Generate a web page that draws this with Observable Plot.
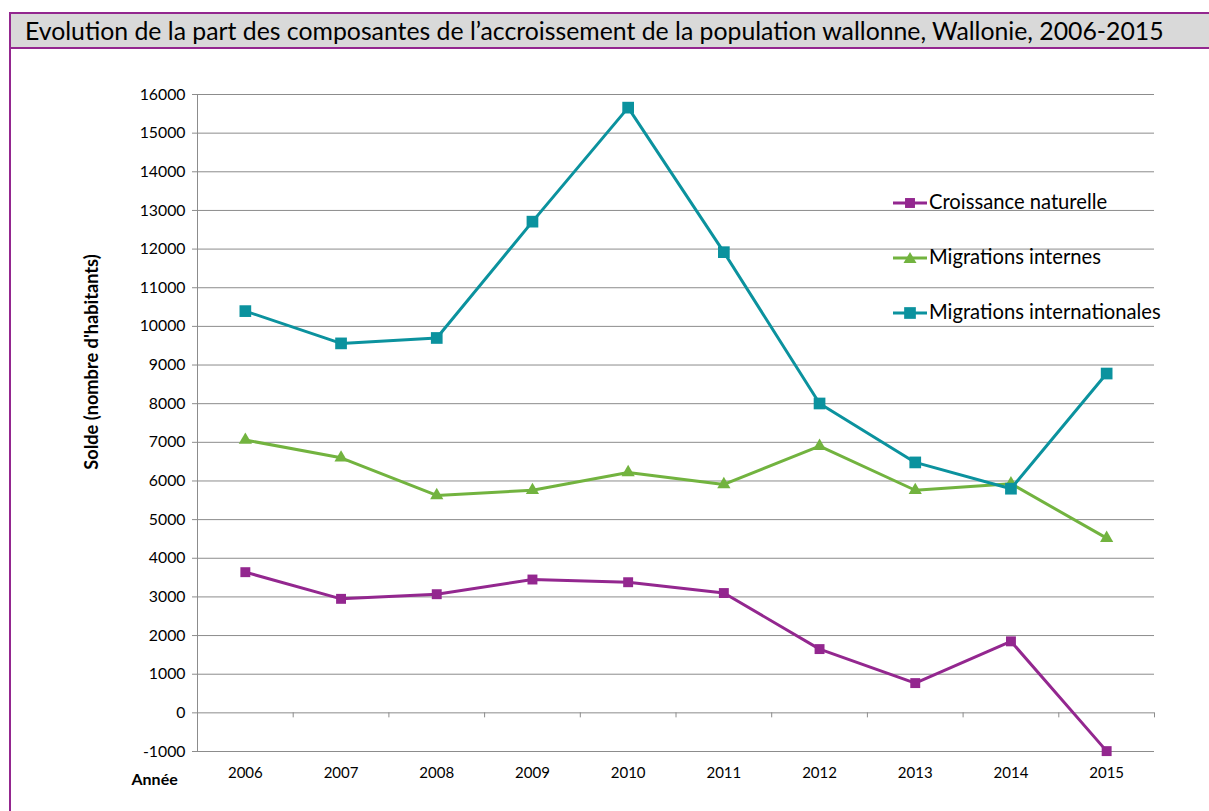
<!DOCTYPE html>
<html>
<head>
<meta charset="utf-8">
<script src="https://cdn.jsdelivr.net/npm/d3@7"></script>
<script src="https://cdn.jsdelivr.net/npm/@observablehq/plot@0.6"></script>
<style>
  body { margin: 0; background: #fff; font-family: Lato, "Noto Sans", sans-serif; }
  #wrap { position: relative; width: 1209px; height: 811px; overflow: hidden; background: #fff; }
  #chart { position: absolute; left: 0; top: 0; }
  #frame { position: absolute; left: 9px; top: 12px; width: 1300px; height: 900px;
           border-left: 2px solid #93278f; border-top: 2px solid #93278f; box-sizing: border-box; pointer-events: none; }
  #title { position: absolute; left: 11px; top: 14px; width: 1300px; height: 33px; background: #d9d9d9;
           border-bottom: 2px solid #93278f; font-size: 24.8px; line-height: 33px; padding-left: 14px; color: #000; box-sizing: content-box; white-space: nowrap; }
  #legend { position: absolute; left: 893px; top: 188px; font-size: 20.2px; color: #000; }
  .row { position: absolute; left: 0; white-space: nowrap; height: 26px; line-height: 26px; }
  .row svg { vertical-align: middle; margin-right: 2px; position: relative; top: -1px; }
</style>
</head>
<body>
<div id="wrap">
  <div id="chart"></div>
  <div id="frame"></div>
  <div id="title">Evolution de la part des composantes de l’accroissement de la population wallonne, Wallonie, 2006-2015</div>
  <div id="legend"></div>
</div>
<script>
const years = [2006, 2007, 2008, 2009, 2010, 2011, 2012, 2013, 2014, 2015];
const croissanceNaturelle = [3640, 2950, 3070, 3450, 3380, 3100, 1650, 770, 1850, -990];
const migrationsInternes = [7060, 6600, 5625, 5760, 6220, 5910, 6900, 5760, 5930, 4520];
const migrationsInternationales = [10395, 9560, 9700, 12710, 15660, 11920, 8005, 6480, 5800, 8780];
const seriesNames = ["Croissance naturelle", "Migrations internes", "Migrations internationales"];
const seriesColors = ["#93278f", "#72b33f", "#0b929e"];
const seriesSymbols = ["square", "triangle", "square"];
const seriesSizes = [5.6, 4.9, 6.6];
const yTicks = [-1000, 0, 1000, 2000, 3000, 4000, 5000, 6000, 7000, 8000, 9000, 10000, 11000, 12000, 13000, 14000, 15000, 16000];
const yLabel = "Solde (nombre d'habitants)";
const xLabel = "Année";

const allSeries = [croissanceNaturelle, migrationsInternes, migrationsInternationales];
const rows = [];
allSeries.forEach((vals, s) => vals.forEach((v, i) => rows.push({year: years[i], value: v, series: seriesNames[s]})));
const boundaries = [years[0] - 0.5, ...years.map(y => y + 0.5)];

const marks = [
  Plot.ruleY(yTicks, {stroke: "#8c8c8c", strokeWidth: 1}),
  Plot.ruleX([years[0] - 0.5], {stroke: "#8c8c8c", strokeWidth: 1}),
  Plot.ruleX(boundaries, {x: d => d, y1: 0, y2: 0, insetBottom: -5, stroke: "#8c8c8c"}),
  Plot.axisY(yTicks, {anchor: "left", label: null, tickSize: 5, tickPadding: 7, tickFormat: d => String(d), fontSize: 15.8, stroke: "#8c8c8c", fill: "#000"}),
  Plot.axisX(years, {anchor: "bottom", label: null, tickSize: 0, tickPadding: 16, tickFormat: d => String(d), fontSize: 15, fill: "#000"}),
];
seriesNames.forEach((name, s) => {
  const data = rows.filter(r => r.series === name);
  marks.push(Plot.line(data, {x: "year", y: "value", stroke: seriesColors[s], strokeWidth: 3}));
  marks.push(Plot.dot(data, {x: "year", y: "value", symbol: seriesSymbols[s], r: seriesSizes[s], fill: seriesColors[s], stroke: "none"}));
});
marks.push(Plot.text([yLabel], {frameAnchor: "left", textAnchor: "middle", dx: -105, dy: -61, rotate: -90, fontSize: 18.2, fontWeight: "bold", fill: "#000"}));
marks.push(Plot.text([xLabel], {frameAnchor: "bottom-left", dx: -66, dy: 33, fontSize: 16, fontWeight: "bold", fill: "#000"}));

const chart = Plot.plot({
  width: 1209,
  height: 811,
  marginTop: 94,
  marginBottom: 60,
  marginLeft: 197,
  marginRight: 55,
  style: {fontFamily: "Lato, 'Noto Sans', sans-serif", background: "transparent"},
  x: {type: "linear", domain: [years[0] - 0.5, years[years.length - 1] + 0.5], axis: null, label: null},
  y: {domain: [yTicks[0], yTicks[yTicks.length - 1]], axis: null, label: null},
  marks
});
document.getElementById("chart").appendChild(chart);

const legend = document.getElementById("legend");
const rowTops = [0, 55, 110];
seriesNames.forEach((name, s) => {
  const div = document.createElement("div");
  div.className = "row";
  div.style.top = rowTops[s] + "px";
  const sym = seriesSymbols[s] === "square"
    ? `<rect x="${17 - seriesSizes[s] * 0.886}" y="${7 - seriesSizes[s] * 0.886}" width="${seriesSizes[s] * 1.772}" height="${seriesSizes[s] * 1.772}" fill="${seriesColors[s]}"/>`
    : `<polygon points="17,1 23.5,12 10.5,12" fill="${seriesColors[s]}"/>`;
  div.innerHTML = `<svg width="34" height="14"><line x1="0" y1="7" x2="34" y2="7" stroke="${seriesColors[s]}" stroke-width="3"/>${sym}</svg>${name}`;
  legend.appendChild(div);
});
</script>
</body>
</html>
